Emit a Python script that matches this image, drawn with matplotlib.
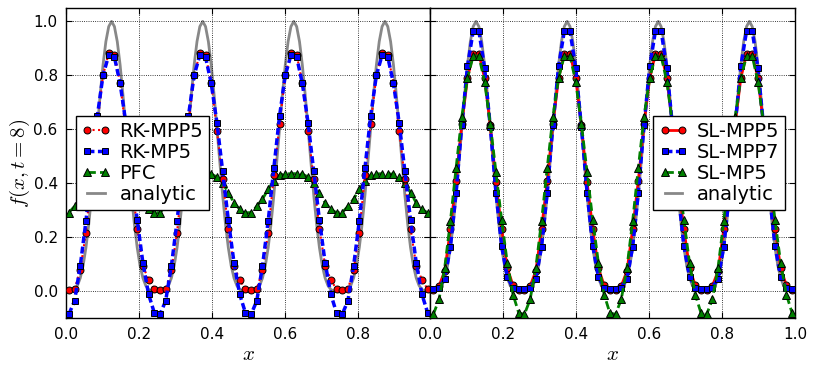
import numpy as np
import matplotlib
matplotlib.use("Agg")
import matplotlib.pyplot as plt

# ---------------- data ----------------
n_cells = 64
x_cells = (np.arange(n_cells) + 0.5) / n_cells
x_fine = np.arange(129) / 128.0

analytic = [
    0.0, 0.0001, 0.0014, 0.0071, 0.0214, 0.0494, 0.0953, 0.1620,
    0.2500, 0.3571, 0.4780, 0.6050, 0.7286, 0.8386, 0.9253, 0.9809,
    1.0, 0.9809, 0.9253, 0.8386, 0.7286, 0.6050, 0.4780, 0.3571,
    0.2500, 0.1620, 0.0953, 0.0494, 0.0214, 0.0071, 0.0014, 0.0001,
    0.0, 0.0001, 0.0014, 0.0071, 0.0214, 0.0494, 0.0953, 0.1620,
    0.2500, 0.3571, 0.4780, 0.6050, 0.7286, 0.8386, 0.9253, 0.9809,
    1.0, 0.9809, 0.9253, 0.8386, 0.7286, 0.6050, 0.4780, 0.3571,
    0.2500, 0.1620, 0.0953, 0.0494, 0.0214, 0.0071, 0.0014, 0.0001,
    0.0, 0.0001, 0.0014, 0.0071, 0.0214, 0.0494, 0.0953, 0.1620,
    0.2500, 0.3571, 0.4780, 0.6050, 0.7286, 0.8386, 0.9253, 0.9809,
    1.0, 0.9809, 0.9253, 0.8386, 0.7286, 0.6050, 0.4780, 0.3571,
    0.2500, 0.1620, 0.0953, 0.0494, 0.0214, 0.0071, 0.0014, 0.0001,
    0.0, 0.0001, 0.0014, 0.0071, 0.0214, 0.0494, 0.0953, 0.1620,
    0.2500, 0.3571, 0.4780, 0.6050, 0.7286, 0.8386, 0.9253, 0.9809,
    1.0, 0.9809, 0.9253, 0.8386, 0.7286, 0.6050, 0.4780, 0.3571,
    0.2500, 0.1620, 0.0953, 0.0494, 0.0214, 0.0071, 0.0014, 0.0001,
    0.0,
]

rk_mpp5 = [
    0.004, 0.009, 0.078, 0.218, 0.430, 0.620, 0.800, 0.882, 0.876, 0.772, 0.595, 0.415, 0.232, 0.094, 0.043, 0.008,
    0.004, 0.009, 0.078, 0.218, 0.430, 0.620, 0.800, 0.882, 0.876, 0.772, 0.595, 0.415, 0.232, 0.094, 0.043, 0.008,
    0.004, 0.009, 0.078, 0.218, 0.430, 0.620, 0.800, 0.882, 0.876, 0.772, 0.595, 0.415, 0.232, 0.094, 0.043, 0.008,
    0.004, 0.009, 0.078, 0.218, 0.430, 0.620, 0.800, 0.882, 0.876, 0.772, 0.595, 0.415, 0.232, 0.094, 0.043, 0.008,
]
rk_mp5 = [
    -0.085, -0.035, 0.094, 0.260, 0.458, 0.650, 0.800, 0.875, 0.868, 0.770, 0.625, 0.446, 0.264, 0.106, -0.011, -0.079,
    -0.085, -0.035, 0.094, 0.260, 0.458, 0.650, 0.800, 0.875, 0.868, 0.770, 0.625, 0.446, 0.264, 0.106, -0.011, -0.079,
    -0.085, -0.035, 0.094, 0.260, 0.458, 0.650, 0.800, 0.875, 0.868, 0.770, 0.625, 0.446, 0.264, 0.106, -0.011, -0.079,
    -0.085, -0.035, 0.094, 0.260, 0.458, 0.650, 0.800, 0.875, 0.868, 0.770, 0.625, 0.446, 0.264, 0.106, -0.011, -0.079,
]
pfc = [
    0.292, 0.315, 0.342, 0.378, 0.410, 0.430, 0.435, 0.436, 0.436, 0.434, 0.424, 0.400, 0.366, 0.328, 0.304, 0.291,
    0.292, 0.315, 0.342, 0.378, 0.410, 0.430, 0.435, 0.436, 0.436, 0.434, 0.424, 0.400, 0.366, 0.328, 0.304, 0.291,
    0.292, 0.315, 0.342, 0.378, 0.410, 0.430, 0.435, 0.436, 0.436, 0.434, 0.424, 0.400, 0.366, 0.328, 0.304, 0.291,
    0.292, 0.315, 0.342, 0.378, 0.410, 0.430, 0.435, 0.436, 0.436, 0.434, 0.424, 0.400, 0.366, 0.328, 0.304, 0.291,
]
sl_mpp5 = [
    0.004, 0.020, 0.075, 0.230, 0.410, 0.620, 0.790, 0.880, 0.880, 0.790, 0.615, 0.405, 0.230, 0.085, 0.022, 0.004,
    0.004, 0.020, 0.075, 0.230, 0.410, 0.620, 0.790, 0.880, 0.880, 0.790, 0.615, 0.405, 0.230, 0.085, 0.022, 0.004,
    0.004, 0.020, 0.075, 0.230, 0.410, 0.620, 0.790, 0.880, 0.880, 0.790, 0.615, 0.405, 0.230, 0.085, 0.022, 0.004,
    0.004, 0.020, 0.075, 0.230, 0.410, 0.620, 0.790, 0.880, 0.880, 0.790, 0.615, 0.405, 0.230, 0.085, 0.022, 0.004,
]
sl_mpp7 = [
    0.007, 0.014, 0.047, 0.165, 0.366, 0.615, 0.834, 0.964, 0.964, 0.828, 0.610, 0.366, 0.168, 0.053, 0.014, 0.007,
    0.007, 0.014, 0.047, 0.165, 0.366, 0.615, 0.834, 0.964, 0.964, 0.828, 0.610, 0.366, 0.168, 0.053, 0.014, 0.007,
    0.007, 0.014, 0.047, 0.165, 0.366, 0.615, 0.834, 0.964, 0.964, 0.828, 0.610, 0.366, 0.168, 0.053, 0.014, 0.007,
    0.007, 0.014, 0.047, 0.165, 0.366, 0.615, 0.834, 0.964, 0.964, 0.828, 0.610, 0.366, 0.168, 0.053, 0.014, 0.007,
]
sl_mp5 = [
    -0.085, -0.030, 0.088, 0.260, 0.458, 0.647, 0.790, 0.872, 0.872, 0.777, 0.620, 0.442, 0.264, 0.104, -0.012, -0.080,
    -0.085, -0.030, 0.088, 0.260, 0.458, 0.647, 0.790, 0.872, 0.872, 0.777, 0.620, 0.442, 0.264, 0.104, -0.012, -0.080,
    -0.085, -0.030, 0.088, 0.260, 0.458, 0.647, 0.790, 0.872, 0.872, 0.777, 0.620, 0.442, 0.264, 0.104, -0.012, -0.080,
    -0.085, -0.030, 0.088, 0.260, 0.458, 0.647, 0.790, 0.872, 0.872, 0.777, 0.620, 0.442, 0.264, 0.104, -0.012, -0.080,
]

xticks = [0.0, 0.2, 0.4, 0.6, 0.8, 1.0]
left_xticklabels = ["0.0", "0.2", "0.4", "0.6", "0.8", ""]
right_xticklabels = ["0.0", "0.2", "0.4", "0.6", "0.8", "1.0"]
yticks = [0.0, 0.2, 0.4, 0.6, 0.8, 1.0]
yticklabels = ["0.0", "0.2", "0.4", "0.6", "0.8", "1.0"]

# ---------------- style ----------------
plt.rcParams.update({
    "font.family": ["DejaVu Sans"],
    "mathtext.fontset": "cm",
    "xtick.direction": "in",
    "ytick.direction": "in",
    "xtick.top": True,
    "ytick.right": True,
    "xtick.major.size": 4,
    "ytick.major.size": 4,
    "xtick.labelsize": 11,
    "ytick.labelsize": 11,
    "xtick.major.pad": 6,
    "ytick.major.pad": 6,
    "axes.linewidth": 1.0,
    "legend.fancybox": False,
    "legend.framealpha": 1.0,
    "legend.edgecolor": "black",
    "legend.numpoints": 2,
})

fig = plt.figure(figsize=(8.17, 3.75), dpi=100)
fig.subplots_adjust(left=0.0808, right=0.973, bottom=0.151, top=0.979, wspace=0.0)
ax1 = fig.add_subplot(1, 2, 1)
ax2 = fig.add_subplot(1, 2, 2, sharey=ax1)

gray = "#888888"
mk = dict(markeredgecolor="black", markeredgewidth=0.7)
leg_kw = dict(fontsize=14, handlelength=1.5, handletextpad=0.45,
              borderpad=0.3, labelspacing=0.1, borderaxespad=0.5)

# Left panel
la, = ax1.plot(x_fine, analytic, color=gray, lw=2.0, zorder=1, label="analytic")
l1, = ax1.plot(x_cells, rk_mpp5, color="red", ls=":", lw=1.5, marker="o", ms=5, zorder=3, label="RK-MPP5", **mk)
l2, = ax1.plot(x_cells, rk_mp5, color="blue", ls="--", lw=2.5, marker="s", ms=5, zorder=4, label="RK-MP5", **mk)
l2.set_dashes((2.0, 1.0))
l3, = ax1.plot(x_cells, pfc, color="green", ls="--", lw=2.0, marker="^", ms=6, zorder=2, label="PFC", **mk)
l3.set_dashes((3.0, 1.5))
ax1.legend([l1, l2, l3, la], ["RK-MPP5", "RK-MP5", "PFC", "analytic"],
           loc="center left", **leg_kw)

# Right panel
ra, = ax2.plot(x_fine, analytic, color=gray, lw=2.0, zorder=1, label="analytic")
r1, = ax2.plot(x_cells, sl_mpp5, color="red", ls="-", lw=2.0, marker="o", ms=5, zorder=2, label="SL-MPP5", **mk)
r2, = ax2.plot(x_cells, sl_mpp7, color="blue", ls="--", lw=2.5, marker="s", ms=5, zorder=3, label="SL-MPP7", **mk)
r2.set_dashes((2.0, 1.0))
r3, = ax2.plot(x_cells, sl_mp5, color="green", ls="--", lw=2.0, marker="^", ms=6, zorder=4, label="SL-MP5", **mk)
r3.set_dashes((3.0, 1.5))
ax2.legend([r1, r2, r3, ra], ["SL-MPP5", "SL-MPP7", "SL-MP5", "analytic"],
           loc="center right", **leg_kw)

for ax, labels in ((ax1, left_xticklabels), (ax2, right_xticklabels)):
    ax.set_xlim(0.0, 1.0)
    ax.set_ylim(-0.1, 1.05)
    ax.set_xticks(xticks)
    ax.set_xticklabels(labels)
    ax.set_yticks(yticks)
    ax.grid(True, color="black", ls=":", lw=0.6)
    ax.set_xlabel("$x$", fontsize=15, labelpad=2)

ax1.set_yticklabels(yticklabels)
ax1.set_ylabel("$f(x,t=8)$", fontsize=15, labelpad=1)
plt.setp(ax2.get_yticklabels(), visible=False)

fig.savefig("out.png", dpi=100)
